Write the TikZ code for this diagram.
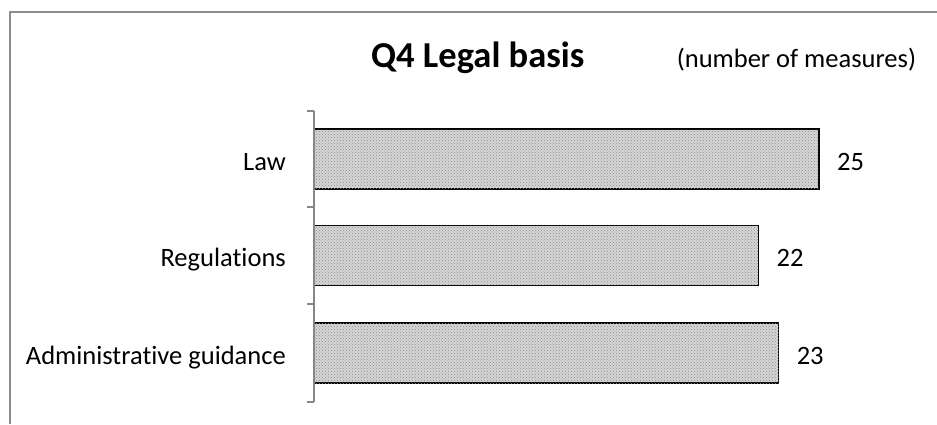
\documentclass[tikz,border=0pt]{standalone}
\usepackage{fontspec}
\setmainfont{Carlito}[Ligatures=NoCommon]
\usepackage{xcolor}
\usepackage{tikz}
\usetikzlibrary{positioning, patterns}

\definecolor{framegray}{RGB}{140,140,140}
\definecolor{axisgray}{RGB}{134,134,134}
\definecolor{barfill}{RGB}{214,214,214}

\begin{document}
\begin{tikzpicture}[x=1pt, y=-1pt,
        bar/.style={draw=black, line width=1.5pt, fill=barfill, postaction={pattern=crosshatch dots, pattern color=black!45},
            anchor=west, minimum height=60pt, inner sep=0pt, outer sep=0pt},
        cat/.style={font=\fontsize{26.5}{30}\selectfont, inner sep=0pt, text height=23pt, text depth=1pt},
        val/.style={cat},
        tick/.style={axisgray, line width=1.5pt}]
            \useasboundingbox (0,0) rectangle (937,424);
            \draw[framegray, line width=1.5pt] (10,424) |- (937,12);

            \node[font=\fontsize{36.5}{40}\selectfont\bfseries, anchor=base west, inner sep=0pt] (title) at (371,67) {Q4 Legal basis};
            \node[font=\fontsize{26.5}{30}\selectfont, inner sep=0pt] (unit) [base right=92pt of title] {(number of measures)};

            \node[bar, minimum width=25*20.2pt] (law) at (314,159) {};
            \node[bar, minimum width=22*20.2pt] (reg) at (314,255.5) {};
            \node[bar, minimum width=23*20.2pt] (adm) at (314,353) {};

            \node[cat] (lawlbl) [left=28pt of law] {Law};
            \node[cat] (reglbl) [left=28pt of reg] {Regulations};
            \node[cat] (admlbl) [left=28pt of adm] {Administrative guidance};

            \node[val] (lawval) [right=18pt of law] {25};
            \node[val] (regval) [right=18pt of reg] {22};
            \node[val] (admval) [right=18pt of adm] {23};

            % axis with ticks between the categories
            \coordinate (top) at (314,111);
            \coordinate (bot) at (314,402);
            \draw[tick] (top) -- (bot);
            \draw[tick] (top) -- ++(-7,0);
            \draw[tick] (314,207) -- ++(-7,0);
            \draw[tick] (314,304) -- ++(-7,0);
            \draw[tick] (bot) -- ++(-7,0);
\end{tikzpicture}
\end{document}
